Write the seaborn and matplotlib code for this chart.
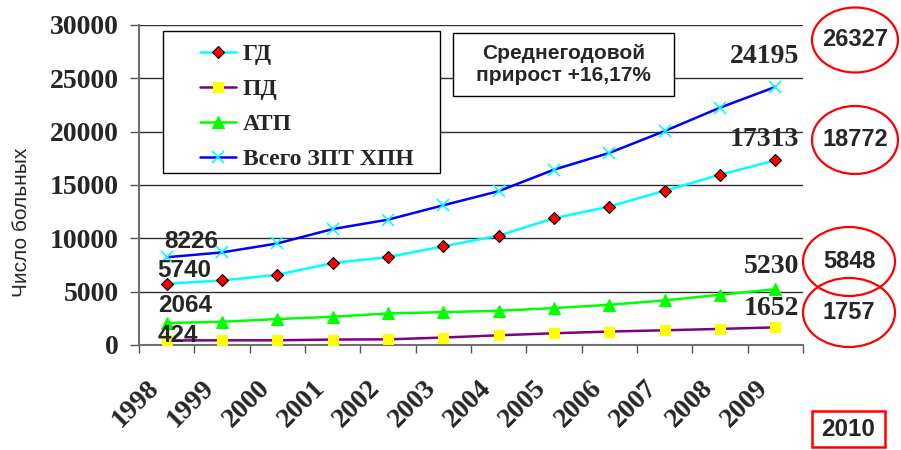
import pandas as pd
import matplotlib.pyplot as plt
import seaborn as sns
from matplotlib.patches import Ellipse, Rectangle
from matplotlib.transforms import ScaledTranslation

# Данные (число больных по годам)
years = ['1998', '1999', '2000', '2001', '2002', '2003',
         '2004', '2005', '2006', '2007', '2008', '2009']
gd = [5740, 6050, 6580, 7680, 8240, 9250, 10250, 11880, 12980, 14460, 15960, 17313]
pdial = [424, 440, 440, 510, 530, 700, 910, 1100, 1260, 1380, 1510, 1652]
atp = [2064, 2180, 2430, 2650, 2960, 3080, 3210, 3460, 3770, 4180, 4710, 5230]
total = [8226, 8680, 9520, 10870, 11750, 13100, 14420, 16440, 18010, 20060, 22250, 24195]
forecast_2010 = ['26327', '18772', '5848', '1757']

df = pd.DataFrame({'x': range(len(years)), 'ГД': gd, 'ПД': pdial,
                   'АТП': atp, 'Всего ЗПТ ХПН': total})

sns.set_style('white')
plt.rcParams['font.family'] = ['Liberation Serif', 'DejaVu Serif']

fig = plt.figure(figsize=(9.01, 4.5), dpi=100)
ax = fig.add_axes([139 / 901, 1 - 345 / 450, 664 / 901, 320 / 450])

series = [
    ('ГД', '#00ffff', 'D', 'red', 'black', 6.5),
    ('ПД', '#800080', 's', '#ffff00', '#ffff00', 7.5),
    ('АТП', '#00ff00', '^', '#00ff00', '#00ff00', 8),
    ('Всего ЗПТ ХПН', '#0000ff', 'x', '#00ffff', '#00ffff', 8),
]
for name, col, mk, mfc, mec, ms in series:
    sns.lineplot(data=df, x='x', y=name, ax=ax, color=col, lw=1.8,
                 marker=mk, markerfacecolor=mfc, markeredgecolor=mec,
                 markeredgewidth=0.8 if mk != 'x' else 1.2, markersize=ms,
                 label=name, zorder=3)

ax.set_xlim(-0.5, len(years) - 0.5)
ax.set_ylim(0, 30000)
ax.set_yticks(range(0, 30001, 5000))
ax.set_yticklabels([str(v) for v in range(0, 30001, 5000)],
                   fontsize=20, fontweight='bold')
ax.set_xlabel('')
ax.set_ylabel('')

# деления по границам категорий, подписи по центрам
ax.set_xticks([i - 0.5 for i in range(len(years) + 1)])
ax.set_xticklabels([])
ax.set_xticks(range(len(years)), minor=True)
ax.set_xticklabels(years, minor=True, rotation=45, ha='right',
                   rotation_mode='anchor', fontsize=20, fontweight='bold')
ax.tick_params(axis='x', which='minor', length=0, pad=22)
ax.tick_params(axis='x', which='major', direction='out', length=6,
               width=1, color='#555555', bottom=True)
ax.tick_params(axis='y', direction='out', length=6.5, width=1,
               color='#555555', left=True, pad=8)
shift = ScaledTranslation(-20 / 100, 0, fig.dpi_scale_trans)
for lab in ax.get_xticklabels(minor=True):
    lab.set_transform(lab.get_transform() + shift)

ax.grid(axis='y', color='#303030', lw=1)
ax.grid(axis='x', visible=False)
for s in ['top', 'right']:
    ax.spines[s].set_visible(False)
for s in ['left', 'bottom']:
    ax.spines[s].set_color('#707070')
    ax.spines[s].set_linewidth(1.5)

# легенда в рамке
ax.add_patch(Rectangle((24 / 664, 172 / 320), 277 / 664, 142 / 320,
                       transform=ax.transAxes, fill=True, fc='white',
                       ec='black', lw=1, zorder=4))
leg = ax.legend(loc='upper left', bbox_to_anchor=(0.06, 1.008),
                frameon=False, prop={'size': 17, 'weight': 'bold'},
                handlelength=1.5, handletextpad=0.3, labelspacing=0.57)
leg.set_zorder(5)

# блок со среднегодовым приростом
ax.add_patch(Rectangle((314 / 664, 249 / 320), 221 / 664, 63 / 320,
                       transform=ax.transAxes, fc='white', ec='black',
                       lw=1, zorder=4))
ax.text(424.5 / 664, 280.5 / 320, 'Среднегодовой\nприрост +16,17%',
        transform=ax.transAxes, ha='center', va='center', fontsize=15,
        fontweight='bold', family='Liberation Sans', linespacing=1.15,
        zorder=5)

# подписи значений на первом и последнем году
sans = dict(fontsize=17.5, fontweight='bold', family='Liberation Sans')
serif = dict(fontsize=20, fontweight='bold')
left_off = {'Всего ЗПТ ХПН': (-2, 9), 'ГД': (-9, 7), 'АТП': (-9, 11), 'ПД': (-9, -2)}
right_off = {'Всего ЗПТ ХПН': (24, 24), 'ГД': (24, 14), 'АТП': (24, 16), 'ПД': (24, 12)}
for name in left_off:
    v0 = df[name].iloc[0]
    v1 = df[name].iloc[-1]
    ax.annotate(str(v0), (0, v0), xytext=left_off[name], textcoords='offset pixels',
                ha='left', va='baseline', zorder=6, **sans)
    ax.annotate(str(v1), (len(years) - 1, v1), xytext=right_off[name],
                textcoords='offset pixels', ha='right', va='baseline', zorder=6, **serif)

# прогноз на 2010 год
centers = [(855, 40), (855, 140), (849, 261.5), (849, 312.5)]
sizes = [(86, 65), (86, 68), (92, 69), (92, 69)]
for (cx, cy), (w, h), txt in zip(centers, sizes, forecast_2010):
    fig.patches.append(Ellipse((cx / 901, 1 - cy / 450), w / 901, h / 450,
                               transform=fig.transFigure, fill=False,
                               ec='#ff0000', lw=1.6))
    fig.text(cx / 901, 1 - cy / 450, txt, ha='center', va='center',
             fontsize=17, fontweight='bold', family='Liberation Sans')
fig.patches.append(Rectangle((812 / 901, 1 - 447 / 450), 73 / 901, 36 / 450,
                             transform=fig.transFigure, fill=False,
                             ec='#ff0000', lw=1.8))
fig.text(848.5 / 901, 1 - 429 / 450, '2010', ha='center', va='center',
         fontsize=17.5, fontweight='bold', family='Liberation Sans')

fig.text(22 / 901, 1 - 222 / 450, 'Число больных', rotation=90,
         ha='center', va='center', fontsize=15, family='Liberation Sans')

fig.savefig('out.png', dpi=100)
